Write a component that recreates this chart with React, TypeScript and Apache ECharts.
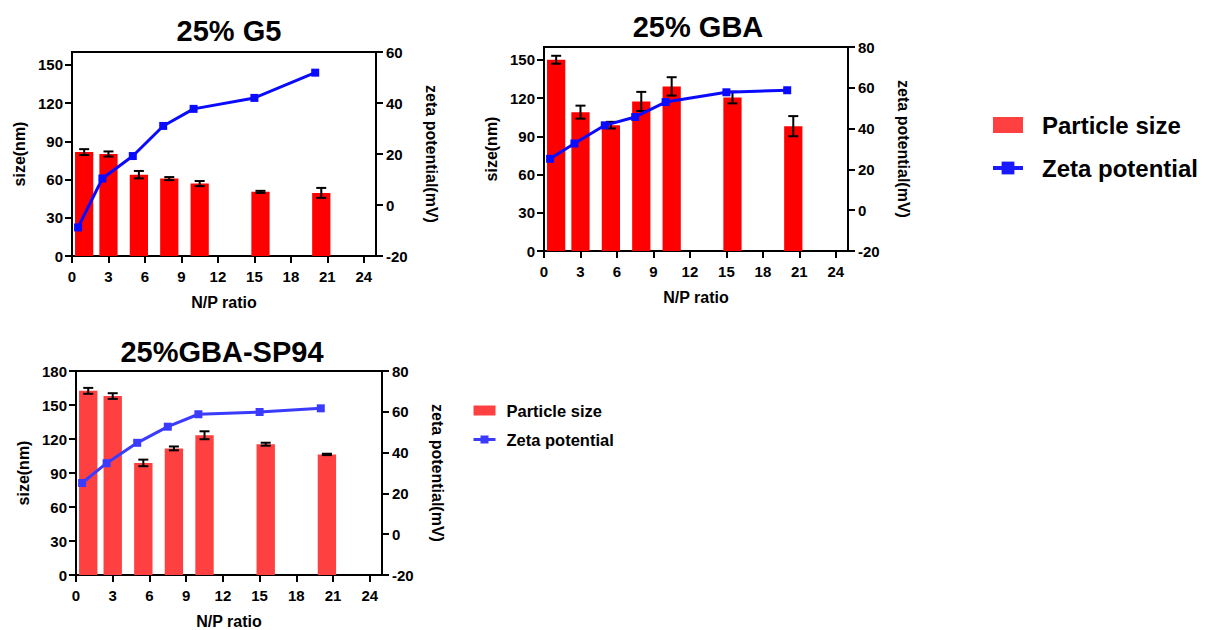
import React, { useEffect, useRef } from "react";
import * as echarts from "echarts";

// ---------- data ----------
const zetaX = [0.5, 2.5, 5, 7.5, 10, 15, 20];
const barX = [1, 3, 5.5, 8, 10.5, 15.5, 20.5];

const sizeG5 = [81.5, 80, 63.8, 60.7, 56.8, 50.3, 49.5];
const sdG5 = [2.3, 2, 2.9, 1.2, 2, 0.8, 3.9];
const zetaG5 = [-8.8, 10.4, 19.2, 31.0, 37.7, 42.0, 51.9];

const sizeGBA = [150, 108.9, 98.7, 117.3, 129.1, 120.4, 97.9];
const sdGBA = [3.1, 5.1, 2.6, 7.5, 7.2, 4.6, 7.9];
const zetaGBA = [25.2, 32.7, 41.6, 45.7, 53.0, 57.8, 58.8];

const sizeSP = [162.5, 157.9, 98.9, 111.7, 123.3, 115.4, 106.4];
const sdSP = [2.6, 2.5, 2.9, 1.7, 3.5, 1.3, 0.6];
const zetaSP = [25.1, 34.8, 44.8, 52.7, 58.8, 59.9, 61.7];

const xTicks = [0, 3, 6, 9, 12, 15, 18, 21, 24];
const sizeTicks150 = [0, 30, 60, 90, 120, 150];
const sizeTicks180 = [0, 30, 60, 90, 120, 150, 180];

const titles = ["25% G5", "25% GBA", "25%GBA-SP94"];

// ---------- styles ----------
const FONT = "'Liberation Sans', Arial, 'DejaVu Sans', sans-serif";
const BAR_W = 1.5; // bar width in x units

const panels = [
  {
    title: titles[0], size: sizeG5, sd: sdG5, zeta: zetaG5, sizeMax: 160, sizeTicks: sizeTicks150,
    zMin: -20, zMax: 60, grid: { left: 72, top: 52, width: 304, height: 204 },
    titleX: 224, titleY: 11, barColor: "#ff0000", lineColor: "#0a0aff",
  },
  {
    title: titles[1], size: sizeGBA, sd: sdGBA, zeta: zetaGBA, sizeMax: 160, sizeTicks: sizeTicks150,
    zMin: -20, zMax: 80, grid: { left: 544, top: 47, width: 304, height: 204 },
    titleX: 693, titleY: 7, barColor: "#ff0000", lineColor: "#0a0aff",
  },
  {
    title: titles[2], size: sizeSP, sd: sdSP, zeta: zetaSP, sizeMax: 180, sizeTicks: sizeTicks180,
    zMin: -20, zMax: 80, grid: { left: 76, top: 371, width: 306, height: 206 },
    titleX: 217, titleY: 332, barColor: "#ff4040", lineColor: "#3b3bff",
  },
];

function buildOption() {
  const grid: any[] = [];
  const xAxis: any[] = [];
  const yAxis: any[] = [];
  const series: any[] = [];
  const title: any[] = [];

  const axisLine = { show: true, lineStyle: { color: "#000", width: 2 } };
  const axisTick = { show: true, length: 7, inside: false, lineStyle: { color: "#000", width: 2 } };
  const labelStyle = { color: "#000", fontSize: 15, fontWeight: "bold", fontFamily: FONT };
  const nameStyle = { color: "#000", fontSize: 16, fontWeight: "bold", fontFamily: FONT };

  panels.forEach((p, i) => {
    grid.push({ ...p.grid, containLabel: false, show: true, borderColor: "#000", borderWidth: 2, backgroundColor: "transparent" });
    title.push({
      text: p.title, left: p.titleX, top: p.titleY, textAlign: "center",
      textStyle: { fontSize: 29, fontWeight: "bold", color: "#000", fontFamily: FONT },
    });
    xAxis.push({
      type: "value", gridIndex: i, min: 0, max: 25,
      name: "N/P ratio", nameLocation: "middle", nameGap: 38, nameTextStyle: nameStyle,
      axisLine, axisTick: { ...axisTick, customValues: xTicks },
      axisLabel: { ...labelStyle, margin: 13, customValues: xTicks },
      splitLine: { show: false },
    });
    yAxis.push({
      type: "value", gridIndex: i, position: "left", min: 0, max: p.sizeMax,
      name: "size(nm)", nameLocation: "middle", nameGap: 45, nameRotate: 90, nameTextStyle: nameStyle,
      axisLine, axisTick: { ...axisTick, customValues: p.sizeTicks },
      axisLabel: { ...labelStyle, margin: 9, customValues: p.sizeTicks },
      splitLine: { show: false },
    });
    yAxis.push({
      type: "value", gridIndex: i, position: "right", min: p.zMin, max: p.zMax, interval: 20,
      name: "zeta potential(mV)", nameLocation: "middle", nameGap: 47, nameRotate: -90, nameTextStyle: nameStyle,
      axisLine, axisTick, axisLabel: { ...labelStyle, margin: 10 },
      splitLine: { show: false },
    });

    const barData = barX.map((x, k) => [x, p.size[k]]);
    const errData = barX.map((x, k) => [x, p.size[k], p.sd[k]]);
    const lineData = zetaX.map((x, k) => [x, p.zeta[k]]);

    series.push({
      type: "custom", name: "Particle size", xAxisIndex: i, yAxisIndex: i * 2,
      itemStyle: { color: p.barColor },
      encode: { x: 0, y: 1 },
      data: barData,
      renderItem: (params: any, api: any) => {
        const x = api.value(0), y = api.value(1);
        const a = api.coord([x - BAR_W / 2, y]);
        const b = api.coord([x + BAR_W / 2, 0]);
        return {
          type: "rect",
          shape: { x: a[0], y: a[1], width: b[0] - a[0], height: b[1] - a[1] },
          style: { fill: api.visual("color") },
        };
      },
    });
    series.push({
      type: "custom", name: "size SD", xAxisIndex: i, yAxisIndex: i * 2, z: 3,
      encode: { x: 0, y: 1 },
      data: errData,
      renderItem: (params: any, api: any) => {
        const x = api.value(0), m = api.value(1), s = api.value(2);
        const hi = api.coord([x, m + s]);
        const lo = api.coord([x, m - s]);
        const cw = 5;
        const st = { stroke: "#000", lineWidth: 2 };
        return {
          type: "group",
          children: [
            { type: "line", shape: { x1: hi[0], y1: hi[1], x2: lo[0], y2: lo[1] }, style: st },
            { type: "line", shape: { x1: hi[0] - cw, y1: hi[1], x2: hi[0] + cw, y2: hi[1] }, style: st },
            { type: "line", shape: { x1: lo[0] - cw, y1: lo[1], x2: lo[0] + cw, y2: lo[1] }, style: st },
          ],
        };
      },
    });
    series.push({
      type: "line", name: "Zeta potential", xAxisIndex: i, yAxisIndex: i * 2 + 1, z: 4,
      data: lineData, symbol: "rect", symbolSize: 8,
      itemStyle: { color: p.lineColor }, lineStyle: { color: p.lineColor, width: 3 },
    });
  });

  const legendText = (size: number, pad: number) => ({
    fontSize: size, fontWeight: "bold", color: "#000", fontFamily: FONT, padding: [0, 0, 0, pad],
  });

  return {
    animation: false,
    backgroundColor: "#fff",
    textStyle: { fontFamily: FONT },
    title,
    grid,
    xAxis,
    yAxis,
    series,
    legend: [
      {
        orient: "vertical", left: 986, top: 108, itemWidth: 30, itemHeight: 16, itemGap: 19,
        textStyle: legendText(24, 14), selectedMode: false,
        data: [
          { name: "Particle size", icon: "rect", itemStyle: { color: "#ff4040" } },
          { name: "Zeta potential", itemStyle: { color: "#1a1aff" }, lineStyle: { color: "#1a1aff", width: 4 } },
        ],
      },
      {
        orient: "vertical", left: 467, top: 397, itemWidth: 22, itemHeight: 10, itemGap: 12,
        textStyle: legendText(16.5, 6), selectedMode: false,
        data: [
          { name: "Particle size", icon: "rect", itemStyle: { color: "#ff4040" } },
          { name: "Zeta potential", itemStyle: { color: "#3b3bff" }, lineStyle: { color: "#3b3bff", width: 3 } },
        ],
      },
    ],
  };
}

export default function App() {
  const ref = useRef<HTMLDivElement>(null);
  useEffect(() => {
    if (!ref.current) return;
    const chart = echarts.init(ref.current, undefined, { renderer: "svg" });
    chart.setOption(buildOption() as any);
    return () => chart.dispose();
  }, []);
  return (
    <div
      ref={ref}
      style={{ position: "absolute", left: 0, top: 0, width: 1206, height: 630 }}
    />
  );
}
